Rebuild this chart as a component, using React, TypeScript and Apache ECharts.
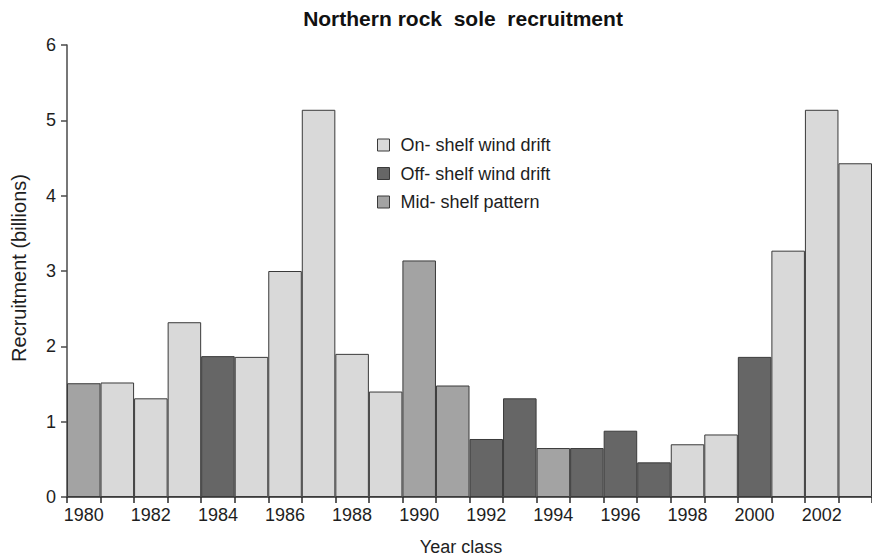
import React, { useEffect, useRef } from "react";
import * as echarts from "echarts";

const years: string[] = [
  "1980", "1981", "1982", "1983", "1984", "1985", "1986", "1987", "1988", "1989",
  "1990", "1991", "1992", "1993", "1994", "1995", "1996", "1997", "1998", "1999",
  "2000", "2001", "2002", "2003",
];

const recruitment: number[] = [
  1.51, 1.52, 1.31, 2.32, 1.87, 1.86, 3.0, 5.14, 1.9, 1.4,
  3.14, 1.48, 0.77, 1.31, 0.65, 0.65, 0.88, 0.46, 0.7, 0.83,
  1.86, 3.27, 5.14, 4.43,
];

// pattern per year class: "on" | "off" | "mid"
const pattern: string[] = [
  "mid", "on", "on", "on", "off", "on", "on", "on", "on", "on",
  "mid", "mid", "off", "off", "mid", "off", "off", "off", "on", "on",
  "off", "on", "on", "on",
];

const patternKeys: string[] = ["on", "off", "mid"];
const patternNames: string[] = ["On- shelf wind drift", "Off- shelf wind drift", "Mid- shelf pattern"];
const patternColors: string[] = ["#d9d9d9", "#666666", "#a3a3a3"];

const yTicks = { min: 0, max: 6, interval: 1 };

const FONT = "'Liberation Sans', Arial, Helvetica, sans-serif";
const TXT = "#1e1e1e";

export default function App() {
  const ref = useRef<HTMLDivElement>(null);

  useEffect(() => {
    if (!ref.current) return;
    const chart = echarts.init(ref.current, null, { renderer: "svg" });

    const series = patternKeys.map((key, i) => ({
      name: patternNames[i],
      type: "bar" as const,
      barGap: "-100%",
      barCategoryGap: 0,
      data: recruitment.map((v, j) => (pattern[j] === key ? v : "-")),
      itemStyle: {
        color: patternColors[i],
        borderColor: "#3a3a3a",
        borderWidth: 1,
      },
      emphasis: { disabled: true },
    }));

    chart.setOption({
      animation: false,
      backgroundColor: "#ffffff",
      textStyle: { fontFamily: FONT },
      grid: { left: 67, top: 45, width: 813, height: 452 },
      legend: {
        orient: "vertical",
        left: 372,
        top: 131,
        itemWidth: 12,
        itemHeight: 12,
        itemGap: 10.5,
        icon: "rect",
        selectedMode: false,
        itemStyle: { borderColor: "#3a3a3a", borderWidth: 1 },
        textStyle: {
          fontFamily: FONT,
          fontSize: 18,
          color: TXT,
          padding: [0, 0, 0, 6],
          lineHeight: 18,
        },
        data: patternNames,
      },
      xAxis: {
        type: "category",
        data: years,
        boundaryGap: true,
        axisLine: { lineStyle: { color: "#2a2a2a", width: 1.5 } },
        axisTick: { show: true, interval: 0, length: 6, lineStyle: { color: "#2a2a2a", width: 1.5 } },
        axisLabel: {
          interval: 1,
          fontFamily: FONT,
          fontSize: 18,
          color: TXT,
          margin: 9,
        },
        splitLine: { show: false },
      },
      yAxis: {
        type: "value",
        min: yTicks.min,
        max: yTicks.max,
        interval: yTicks.interval,
        axisLine: { show: true, lineStyle: { color: "#4a4a4a", width: 1.5 } },
        axisTick: { show: true, length: 6, lineStyle: { color: "#4a4a4a", width: 1.5 } },
        axisLabel: {
          fontFamily: FONT,
          fontSize: 18,
          color: TXT,
          margin: 11,
        },
        splitLine: { show: false },
      },
      graphic: [
        {
          type: "text",
          x: 463,
          y: 18,
          style: {
            text: "Northern rock  sole  recruitment",
            fontFamily: FONT,
            fontSize: 21,
            fontWeight: "bold",
            fill: "#111",
            textAlign: "center",
            textVerticalAlign: "middle",
          },
        },
        {
          type: "text",
          x: 461,
          y: 547,
          style: {
            text: "Year class",
            fontFamily: FONT,
            fontSize: 18,
            fill: TXT,
            textAlign: "center",
            textVerticalAlign: "middle",
          },
        },
        {
          type: "text",
          x: 19,
          y: 268,
          rotation: Math.PI / 2,
          style: {
            text: "Recruitment (billions)",
            fontFamily: FONT,
            fontSize: 20,
            fill: TXT,
            textAlign: "center",
            textVerticalAlign: "middle",
          },
        },
      ],
      series,
    });

    return () => {
      chart.dispose();
    };
  }, []);

  return (
    <div
      ref={ref}
      style={{ position: "absolute", left: 0, top: 0, width: 872, height: 558, overflow: "hidden" }}
    />
  );
}
